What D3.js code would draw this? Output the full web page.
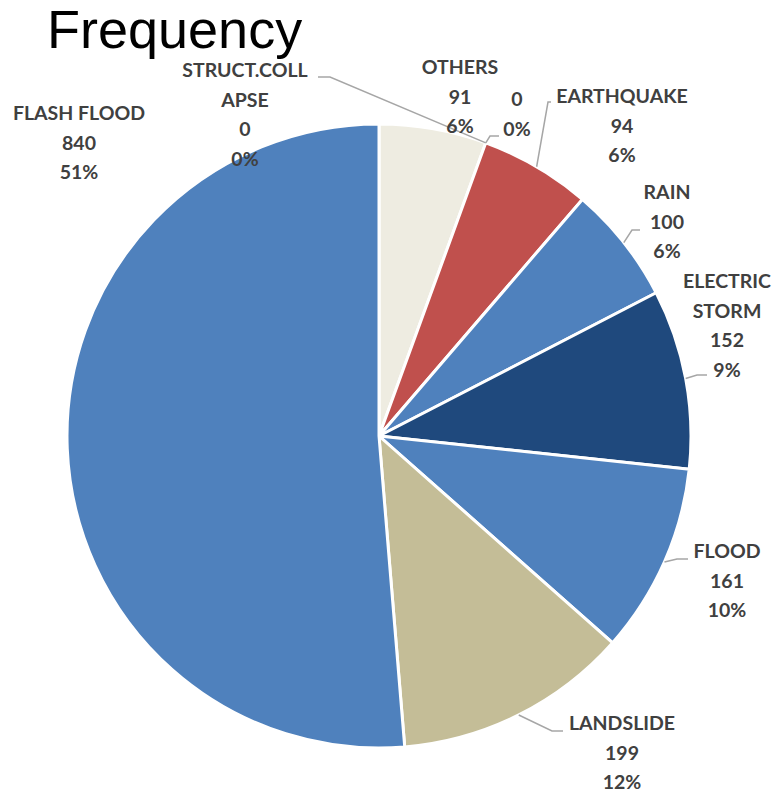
<!doctype html>
<html>
    <head>
        <title>Frequency</title>
        <script src="https://d3js.org/d3.v7.min.js"></script>
        <style type="text/css">
            body { margin: 0; background: #fff; }
            .lbl { font-family: Lato, "Open Sans", sans-serif; font-weight: bold; font-size: 19.5px; fill: #404040; }
            .leader { fill: none; stroke: #a6a6a6; stroke-width: 1.5; }
        </style>
    </head>
    <body>
        <script>
        // data, in Excel's order (clockwise from 12 o'clock)
        var categories = ["OTHERS", "STRUCT.COLLAPSE", "", "EARTHQUAKE", "RAIN", "ELECTRIC STORM", "FLOOD", "LANDSLIDE", "FLASH FLOOD"];
        var values = [91, 0, 0, 94, 100, 152, 161, 199, 840];
        var colors = ["#eeece1", "#4f81bd", "#4f81bd", "#c0504d", "#4f81bd", "#1f497d", "#4f81bd", "#c4bd97", "#4f81bd"];

        // how each label is broken into lines
        var nameLines = {
            "OTHERS": ["OTHERS"],
            "STRUCT.COLLAPSE": ["STRUCT.COLL", "APSE"],
            "": [],
            "EARTHQUAKE": ["EARTHQUAKE"],
            "RAIN": ["RAIN"],
            "ELECTRIC STORM": ["ELECTRIC", "STORM"],
            "FLOOD": ["FLOOD"],
            "LANDSLIDE": ["LANDSLIDE"],
            "FLASH FLOOD": ["FLASH FLOOD"]
        };

        // label layout: text centre x, first line y, and leader end (null = no leader)
        var labelLayout = [
            {x: 460, y: 74, leader: null},
            {x: 245, y: 77, leader: {x: 318, y: 77, dx: 12}},
            {x: 517, y: 106, leader: {x: 499, y: 136, dx: -9}},
            {x: 622, y: 103, leader: {x: 551, y: 102, dx: -3}},
            {x: 667, y: 199, leader: {x: 640, y: 230, dx: -8}},
            {x: 727, y: 288, leader: {x: 707, y: 375, dx: -10}},
            {x: 727, y: 558, leader: {x: 688, y: 559, dx: -11}},
            {x: 622, y: 730, leader: {x: 563, y: 731, dx: -11}},
            {x: 79, y: 120, leader: null}
        ];

        var W = 773, H = 794;
        var cx = 379, cy = 436, R = 312;
        var lineH = 29.5;

        var svg = d3.select("body").append("svg").attr("width", W).attr("height", H);

        svg.append("text")
            .attr("x", 47).attr("y", 48)
            .attr("font-family", "Liberation Sans, Arial, sans-serif")
            .attr("font-size", 54)
            .attr("fill", "#000")
            .text("Frequency");

        var total = d3.sum(values);
        var data = categories.map(function(c, i) { return {name: c, value: values[i], color: colors[i], layout: labelLayout[i]}; });

        var pie = d3.pie().value(function(d) { return d.value; }).sort(null);
        var arc = d3.arc().innerRadius(0).outerRadius(R);
        var arcs = pie(data);

        var g = svg.append("g").attr("transform", "translate(" + cx + "," + cy + ")");
        g.selectAll("path.slice")
            .data(arcs.filter(function(d) { return d.data.value > 0; }))
            .enter().append("path")
                .attr("class", "slice")
                .attr("d", arc)
                .attr("fill", function(d) { return d.data.color; })
                .attr("stroke", "#fff")
                .attr("stroke-width", 3)
                .attr("stroke-linejoin", "round");

        // leader lines
        arcs.forEach(function(d) {
            var L = d.data.layout.leader;
            if (!L) return;
            var mid = (d.startAngle + d.endAngle) / 2;
            var sx = cx + R * Math.sin(mid), sy = cy - R * Math.cos(mid);
            svg.append("path")
                .attr("class", "leader")
                .attr("d", d3.line()([[sx, sy], [L.x + L.dx, L.y], [L.x, L.y]]));
        });

        // labels
        var fmt = d3.format(".0%");
        arcs.forEach(function(d) {
            var lay = d.data.layout;
            var lines = nameLines[d.data.name].concat([String(d.data.value), fmt(d.data.value / total)]);
            var t = svg.append("text")
                .attr("class", "lbl")
                .attr("text-anchor", "middle");
            lines.forEach(function(s, k) {
                t.append("tspan")
                    .attr("x", lay.x)
                    .attr("y", lay.y + k * lineH)
                    .text(s);
            });
        });
        </script>
    </body>
</html>
